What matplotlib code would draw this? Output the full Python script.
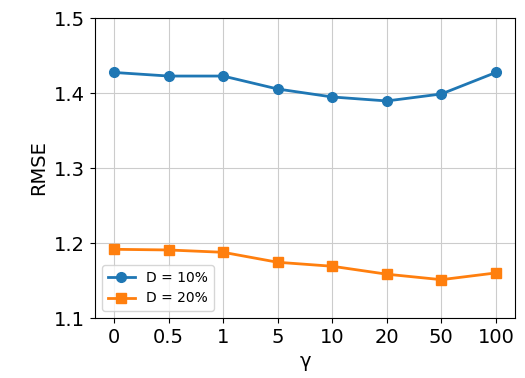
import matplotlib
matplotlib.use("Agg")
import matplotlib.pyplot as plt

# --- données ---
gammas = ["0", "0.5", "1", "5", "10", "20", "50", "100"]
rmse_d10 = [1.4274, 1.4226, 1.4226, 1.4053, 1.3947, 1.3894, 1.3987, 1.4274]
rmse_d20 = [1.1916, 1.1907, 1.1876, 1.1743, 1.1690, 1.1584, 1.1511, 1.1601]

fig = plt.figure(figsize=(5.25, 3.78), dpi=100)
ax = fig.add_axes([95 / 525, 60 / 378, 420 / 525, 300 / 378])

x = range(len(gammas))
ax.plot(x, rmse_d10, marker="o", color="#1f77b4", linewidth=2, markersize=7, label="D = 10%")
ax.plot(x, rmse_d20, marker="s", color="#ff7f0e", linewidth=2, markersize=7, label="D = 20%")

ax.set_xticks(list(x))
ax.set_xticklabels(gammas)
ax.set_ylim(1.1, 1.5)
ax.set_yticks([1.1, 1.2, 1.3, 1.4, 1.5])
ax.set_xlim(-0.35, 7.35)
ax.tick_params(labelsize=14)
ax.set_xlabel("γ", fontsize=14)
ax.set_ylabel("RMSE", fontsize=14)
ax.grid(True, color="#cccccc", linewidth=0.8)
ax.legend(loc="lower left", fontsize=10)

fig.savefig("out.png", dpi=100)
